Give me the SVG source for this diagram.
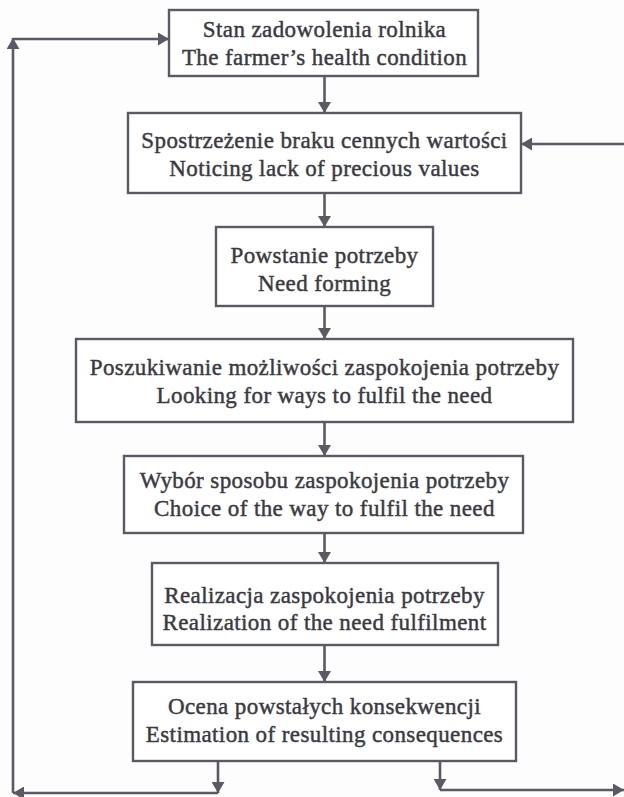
<svg xmlns="http://www.w3.org/2000/svg" width="624" height="797" viewBox="0 0 624 797">
<style>
.box{fill:#ffffff;stroke:#5a5a64;stroke-width:2.4}
.t{font-family:"Liberation Serif","Times New Roman",serif;font-size:23px;letter-spacing:0.4px;fill:#3a3a42;stroke:#3a3a42;stroke-width:0.45px;text-anchor:middle}
.c{fill:none;stroke:#5a5a64;stroke-width:2.6}
</style>
<defs>
<marker id="ah" markerUnits="userSpaceOnUse" markerWidth="11" markerHeight="13" refX="11" refY="6.5" orient="auto">
<path d="M0,0 L11,6.5 L0,13 z" fill="#5a5a64"/>
</marker>
</defs>
<rect width="624" height="797" fill="#fdfdfd"/>
<g id="connectors">
<line class="c" x1="324.5" y1="76" x2="324.5" y2="113" marker-end="url(#ah)"/>
<line class="c" x1="324.5" y1="193" x2="324.5" y2="227" marker-end="url(#ah)"/>
<line class="c" x1="324.5" y1="306" x2="324.5" y2="339" marker-end="url(#ah)"/>
<line class="c" x1="324.5" y1="422" x2="324.5" y2="456" marker-end="url(#ah)"/>
<line class="c" x1="324.5" y1="533" x2="324.5" y2="563" marker-end="url(#ah)"/>
<line class="c" x1="324.5" y1="645" x2="324.5" y2="682" marker-end="url(#ah)"/>
<line class="c" x1="218" y1="761" x2="218" y2="793" marker-end="url(#ah)"/>
<line class="c" x1="218" y1="793" x2="13" y2="793" marker-end="url(#ah)"/>
<line class="c" x1="13" y1="793" x2="13" y2="38" marker-end="url(#ah)"/>
<line class="c" x1="13" y1="39" x2="169" y2="39" marker-end="url(#ah)"/>
<line class="c" x1="440" y1="761" x2="440" y2="790" marker-end="url(#ah)"/>
<line class="c" x1="440" y1="790" x2="624" y2="790" marker-end="url(#ah)"/>
<line class="c" x1="624" y1="144" x2="521" y2="144" marker-end="url(#ah)"/>
</g>
<g id="n1">
<rect class="box" x="169" y="10" width="309" height="66"/>
<text class="t" x="324.5" y="37">Stan zadowolenia rolnika</text>
<text class="t" x="324.5" y="65">The farmer’s health condition</text>
</g>
<g id="n2">
<rect class="box" x="128" y="113" width="393" height="80"/>
<text class="t" x="324.5" y="148">Spostrzeżenie braku cennych wartości</text>
<text class="t" x="324.5" y="176">Noticing lack of precious values</text>
</g>
<g id="n3">
<rect class="box" x="216" y="227" width="217" height="79"/>
<text class="t" x="324.5" y="263">Powstanie potrzeby</text>
<text class="t" x="324.5" y="291">Need forming</text>
</g>
<g id="n4">
<rect class="box" x="76" y="339" width="497" height="83"/>
<text class="t" x="324.5" y="375">Poszukiwanie możliwości zaspokojenia potrzeby</text>
<text class="t" x="324.5" y="403">Looking for ways to fulfil the need</text>
</g>
<g id="n5">
<rect class="box" x="124" y="456" width="399" height="77"/>
<text class="t" x="324.5" y="488">Wybór sposobu zaspokojenia potrzeby</text>
<text class="t" x="324.5" y="516">Choice of the way to fulfil the need</text>
</g>
<g id="n6">
<rect class="box" x="152" y="563" width="346" height="82"/>
<text class="t" x="324.5" y="603">Realizacja zaspokojenia potrzeby</text>
<text class="t" x="324.5" y="630">Realization of the need fulfilment</text>
</g>
<g id="n7">
<rect class="box" x="133" y="682" width="383" height="79"/>
<text class="t" x="324.5" y="714">Ocena powstałych konsekwencji</text>
<text class="t" x="324.5" y="742">Estimation of resulting consequences</text>
</g>
</svg>
